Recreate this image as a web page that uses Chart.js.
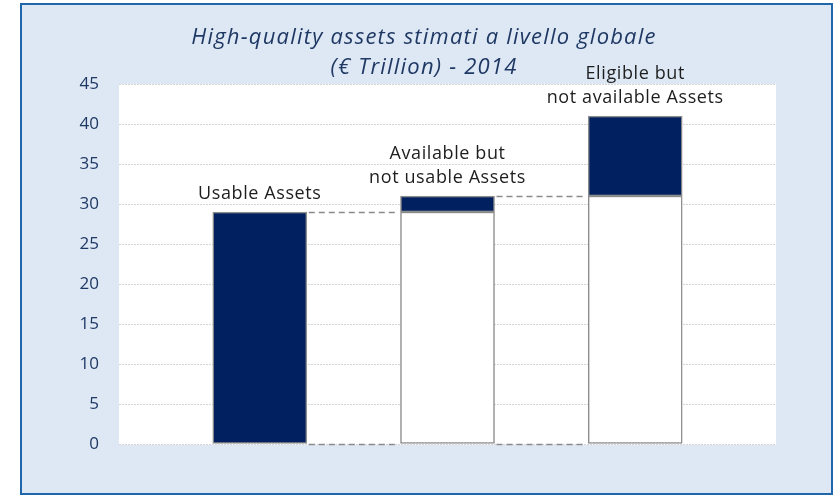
<!DOCTYPE html>
<html>
<head>
<meta charset="utf-8">
<script src="https://cdn.jsdelivr.net/npm/chart.js@4/dist/chart.umd.min.js"></script>
<style>
  html, body { margin: 0; padding: 0; background: #ffffff; }
  #wrap { width: 837px; height: 498px; }
</style>
</head>
<body>
<div id="wrap"><canvas id="c" width="837" height="498"></canvas></div>
<script>
// ---- data ----
const categories = ['Usable Assets', 'Available but not usable Assets', 'Eligible but not available Assets'];
const labelLines = [['Usable Assets'], ['Available but', 'not usable Assets'], ['Eligible but', 'not available Assets']];
const baseValues = [0, 29, 31];       // start of each step (white part)
const increments = [29, 2, 10];       // navy part
const yTicks = [0, 5, 10, 15, 20, 25, 30, 35, 40, 45];
const titleLines = ['High-quality assets stimati a livello globale', '(€ Trillion) - 2014'];

const totals = baseValues.map((b, i) => b + increments[i]);

const whiteData = baseValues.map((b, i) => ({ x: i, y: b > 0 ? [0, b] : null }));
const navyData = baseValues.map((b, i) => ({ x: i, y: [b, totals[i]] }));

const decor = {
  id: 'decor',
  beforeDraw(chart) {
    const { ctx, chartArea: a, width, height } = chart;
    ctx.save();
    ctx.fillStyle = '#ffffff';
    ctx.fillRect(0, 0, width, height);
    ctx.fillStyle = '#dde8f4';
    ctx.fillRect(20, 3, 813, 492);
    ctx.fillStyle = '#ffffff';
    ctx.fillRect(a.left, a.top, a.right - a.left, a.bottom - a.top + 1);
    ctx.restore();
  },
  afterDatasetsDraw(chart) {
    const { ctx } = chart;
    const y = chart.scales.y;
    const bars = chart.getDatasetMeta(1).data;
    ctx.save();
    // connectors
    ctx.strokeStyle = '#8a8a8a';
    ctx.lineWidth = 1.5;
    ctx.setLineDash([6, 4]);
    for (let i = 0; i < bars.length - 1; i++) {
      const r = bars[i].x + bars[i].width / 2;
      const l = bars[i + 1].x - bars[i + 1].width / 2;
      [totals[i], 0].forEach(v => {
        const py = Math.round(y.getPixelForValue(v)) + 0.5;
        ctx.beginPath();
        ctx.moveTo(r + 2, py);
        ctx.lineTo(l - 2, py);
        ctx.stroke();
      });
    }
    ctx.setLineDash([]);
    // bar labels
    ctx.fillStyle = '#1e1e1e';
    ctx.font = '18px "Open Sans"';
    ctx.letterSpacing = '0.6px';
    ctx.textAlign = 'center';
    ctx.textBaseline = 'middle';
    bars.forEach((b, i) => {
      const top = y.getPixelForValue(totals[i]);
      const lines = labelLines[i];
      lines.forEach((t, k) => {
        const py = top - 18 - (lines.length - 1 - k) * 24;
        ctx.fillText(t, b.x, py);
      });
    });
    // title
    ctx.fillStyle = '#1f3864';
    ctx.font = 'italic 22px "Open Sans"';
    ctx.letterSpacing = '1.2px';
    ctx.fillText(titleLines[0], 424, 38);
    ctx.fillText(titleLines[1], 424, 68);
    ctx.letterSpacing = '0px';
    // frame
    ctx.strokeStyle = '#1f67aa';
    ctx.lineWidth = 2;
    ctx.strokeRect(21, 4, 811, 490);
    ctx.restore();
  }
};

new Chart(document.getElementById('c'), {
  type: 'bar',
  data: {
    datasets: [
      {
        label: 'base',
        data: whiteData,
        backgroundColor: '#ffffff',
        borderColor: '#8c8c8c',
        borderWidth: 1.5,
        borderSkipped: false,
        stack: 's'
      },
      {
        label: 'step',
        data: navyData,
        backgroundColor: '#002060',
        borderColor: '#8c8c8c',
        borderWidth: 1.5,
        borderSkipped: false,
        stack: 's'
      }
    ]
  },
  options: {
    responsive: false,
    animation: false,
    devicePixelRatio: 1,
    layout: { padding: { left: 20, right: 61, top: 84, bottom: 54 } },
    barThickness: 94,
    plugins: { legend: { display: false }, tooltip: { enabled: false }, title: { display: false } },
    scales: {
      x: {
        type: 'linear',
        min: -0.75,
        max: 2.75,
        offset: false,
        stacked: true,
        display: false
      },
      y: {
        min: 0,
        max: 45,
        stacked: false,
        afterBuildTicks(s) { s.ticks = yTicks.map(v => ({ value: v })); },
        afterFit(s) { s.width = 99; },
        grid: { color: '#d4d4d4', lineWidth: 1, drawTicks: false },
        border: { display: false, dash: [2, 1] },
        ticks: {
          padding: 20,
          color: '#1f3864',
          font: { family: 'Open Sans', size: 17 }
        }
      }
    }
  },
  plugins: [decor]
});
</script>
</body>
</html>
